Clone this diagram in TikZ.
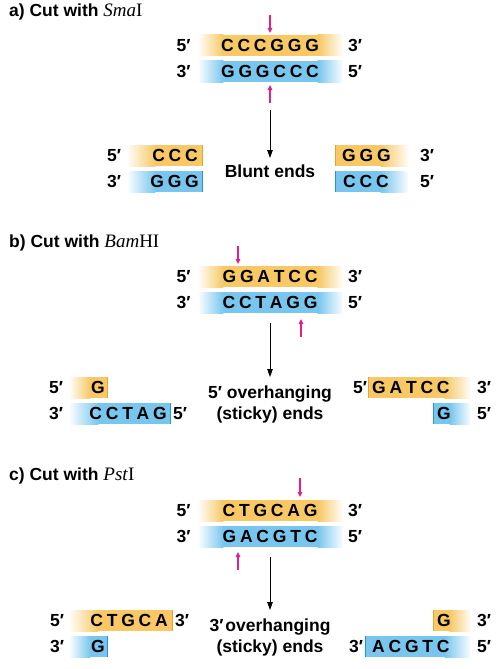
\documentclass[tikz,border=0pt]{standalone}
\usepackage{fontspec}
\setmainfont{Liberation Sans}
\newfontfamily\titleserif{Liberation Serif}
\usetikzlibrary{arrows.meta}
\definecolor{dnay}{RGB}{247,200,100}
\definecolor{dnab}{RGB}{120,198,238}
\definecolor{dnayd}{RGB}{228,165,50}
\definecolor{dnabd}{RGB}{40,148,212}
\definecolor{cutpink}{RGB}{230,30,135}
\def\dnaseq#1{\dnaseqA#1\relax}
\def\dnaseqA#1{#1\dnaseqB}
\def\dnaseqB#1{\ifx#1\relax\else\kern3.8pt#1\expandafter\dnaseqB\fi}
\newcommand\enz[2]{{\titleserif\fontsize{19}{21}\selectfont\mdseries\textit{#1}#2}}
% colour, x1, x2, ytop, left fade, right fade
\newcommand\strand[6]{%
  \fill[#1] ({#2+#5},#4) rectangle ({#3-#6},{#4+21});
  \ifnum#5>0 \shade[left color=#1!6, right color=#1] (#2,#4) rectangle ({#2+#5+0.4},{#4+21});\fi
  \ifnum#6>0 \shade[left color=#1, right color=#1!6] ({#3-#6-0.4},#4) rectangle (#3,{#4+21});\fi
}
\newcommand\cutedge[3]{\draw[#1, line width=1pt] (#2,#3) -- (#2,{#3+21});}
\tikzset{
  txt/.style={font=\bfseries\fontsize{17.5}{21}\selectfont, inner sep=0pt, anchor=base},
  seqw/.style={txt, anchor=base west},
  seqe/.style={txt, anchor=base east},
  paneltitle/.style={txt, anchor=base west},
  cutarrow/.style={cutpink, line width=1.1pt, -{Triangle[length=5pt,width=4.5pt]}},
  steparrow/.style={black, line width=0.9pt, -{Triangle[length=8pt,width=5.5pt]}},
}
\begin{document}
\begin{tikzpicture}[x=1pt,y=-1pt]
\fill[white] (0,0) rectangle (503,669);
\useasboundingbox (0,0) rectangle (503,669);

% ================= a) SmaI =================
\node[paneltitle] (a-title) at (9,16.5) {a) Cut with \enz{Sma}{I}};
\strand{dnay}{199}{342}{35}{24}{24}
\strand{dnab}{199}{342}{61}{24}{24}
\node[txt] (a-top) at (270,51.5) {\dnaseq{CCCGGG}};
\node[txt] (a-bot) at (270,77.5) {\dnaseq{GGGCCC}};
\node[txt] (a-t5) at (183.5,51.5) {5′};
\node[txt] (a-t3) at (355,51.5) {3′};
\node[txt] (a-b3) at (183.5,77.5) {3′};
\node[txt] (a-b5) at (355,77.5) {5′};
\coordinate (a-c1s) at (270,15);
\coordinate (a-c1e) at (270,33);
\coordinate (a-c2s) at (270,103);
\coordinate (a-c2e) at (270,85);
\draw[cutarrow] (a-c1s) -- (a-c1e);
\draw[cutarrow] (a-c2s) -- (a-c2e);
\coordinate (a-ps) at (270,110);
\coordinate (a-pe) at (270,158);
\draw[steparrow] (a-ps) -- (a-pe);
% fragments
\strand{dnay}{128}{203}{145}{27}{0}
\strand{dnab}{128}{203}{171}{27}{0}
\cutedge{dnayd}{202.5}{145}
\cutedge{dnabd}{202.5}{171}
\node[seqe] (a-l1) at (198,161.5) {\dnaseq{CCC}};
\node[seqe] (a-l2) at (199,187.5) {\dnaseq{GGG}};
\node[txt] (a-l5) at (114,161.5) {5′};
\node[txt] (a-l3) at (114,187.5) {3′};
\strand{dnay}{335}{408}{145}{0}{27}
\strand{dnab}{335}{408}{171}{0}{27}
\cutedge{dnayd}{335.5}{145}
\cutedge{dnabd}{335.5}{171}
\node[seqw] (a-r1) at (342,161.5) {\dnaseq{GGG}};
\node[seqw] (a-r2) at (343,187.5) {\dnaseq{CCC}};
\node[txt] (a-r3) at (427,161.5) {3′};
\node[txt] (a-r5) at (427,187.5) {5′};
\node[txt] (a-blunt) at (270,177) {Blunt ends};

% ================= b) BamHI =================
\node[paneltitle] (b-title) at (9,247) {b) Cut with \enz{Bam}{HI}};
\strand{dnay}{199}{342}{266}{24}{24}
\strand{dnab}{199}{342}{292}{24}{24}
\node[txt] (b-top) at (270,282.5) {\dnaseq{GGATCC}};
\node[txt] (b-bot) at (270,308.5) {\dnaseq{CCTAGG}};
\node[txt] (b-t5) at (183.5,282.5) {5′};
\node[txt] (b-t3) at (355,282.5) {3′};
\node[txt] (b-b3) at (183.5,308.5) {3′};
\node[txt] (b-b5) at (355,308.5) {5′};
\coordinate (b-c1s) at (238,246);
\coordinate (b-c1e) at (238,264);
\coordinate (b-c2s) at (301,337);
\coordinate (b-c2e) at (301,319);
\draw[cutarrow] (b-c1s) -- (b-c1e);
\draw[cutarrow] (b-c2s) -- (b-c2e);
\coordinate (b-ps) at (270,323);
\coordinate (b-pe) at (270,377);
\draw[steparrow] (b-ps) -- (b-pe);
% fragments
\strand{dnay}{70}{108}{377}{20}{0}
\strand{dnab}{70}{171}{403}{28}{0}
\cutedge{dnayd}{107.5}{377}
\cutedge{dnabd}{170.5}{403}
\node[seqe] (b-l1) at (105,393.5) {G};
\node[seqe] (b-l2) at (167,419.5) {\dnaseq{CCTAG}};
\node[txt] (b-l5) at (56,393.5) {5′};
\node[txt] (b-l3) at (56,419.5) {3′};
\node[txt] (b-l5b) at (180,419.5) {5′};
\strand{dnay}{368}{470}{377}{0}{25}
\strand{dnab}{433}{470}{403}{0}{20}
\cutedge{dnayd}{368.5}{377}
\cutedge{dnabd}{433.5}{403}
\node[seqw] (b-r1) at (372,393.5) {\dnaseq{GATCC}};
\node[seqw] (b-r2) at (437,419.5) {G};
\node[txt] (b-r5a) at (360,393.5) {5′};
\node[txt] (b-r3) at (484,393.5) {3′};
\node[txt] (b-r5) at (484,419.5) {5′};
\node[txt] (b-ov1) at (270,398) {5′ overhanging};
\node[txt] (b-ov2) at (270,419) {(sticky) ends};

% ================= c) PstI =================
\node[paneltitle] (c-title) at (9,480) {c) Cut with \enz{Pst}{I}};
\strand{dnay}{199}{342}{500}{24}{24}
\strand{dnab}{199}{342}{526}{24}{24}
\node[txt] (c-top) at (270,516.5) {\dnaseq{CTGCAG}};
\node[txt] (c-bot) at (270,542.5) {\dnaseq{GACGTC}};
\node[txt] (c-t5) at (183.5,516.5) {5′};
\node[txt] (c-t3) at (355,516.5) {3′};
\node[txt] (c-b3) at (183.5,542.5) {3′};
\node[txt] (c-b5) at (355,542.5) {5′};
\coordinate (c-c1s) at (300,478);
\coordinate (c-c1e) at (300,497);
\coordinate (c-c2s) at (238,570);
\coordinate (c-c2e) at (238,552);
\draw[cutarrow] (c-c1s) -- (c-c1e);
\draw[cutarrow] (c-c2s) -- (c-c2e);
\coordinate (c-ps) at (270,557);
\coordinate (c-pe) at (270,610);
\draw[steparrow] (c-ps) -- (c-pe);
% fragments
\strand{dnay}{70}{173}{610}{28}{0}
\strand{dnab}{70}{108}{636}{20}{0}
\cutedge{dnayd}{172.5}{610}
\cutedge{dnabd}{107.5}{636}
\node[seqe] (c-l1) at (168,626.5) {\dnaseq{CTGCA}};
\node[seqe] (c-l2) at (105,652.5) {G};
\node[txt] (c-l5) at (57,626.5) {5′};
\node[txt] (c-l3) at (57,652.5) {3′};
\node[txt] (c-l3b) at (182,626.5) {3′};
\strand{dnay}{433}{470}{610}{0}{20}
\strand{dnab}{365}{470}{636}{0}{25}
\cutedge{dnayd}{433.5}{610}
\cutedge{dnabd}{365.5}{636}
\node[seqw] (c-r1) at (437,626.5) {G};
\node[seqw] (c-r2) at (372,652.5) {\dnaseq{ACGTC}};
\node[txt] (c-r3a) at (356,652.5) {3′};
\node[txt] (c-r3) at (484,626.5) {3′};
\node[txt] (c-r5) at (484,652.5) {5′};
\node[txt] (c-ov1) at (270,631) {3′\hspace{2pt}overhanging};
\node[txt] (c-ov2) at (270,652) {(sticky) ends};
\end{tikzpicture}
\end{document}
